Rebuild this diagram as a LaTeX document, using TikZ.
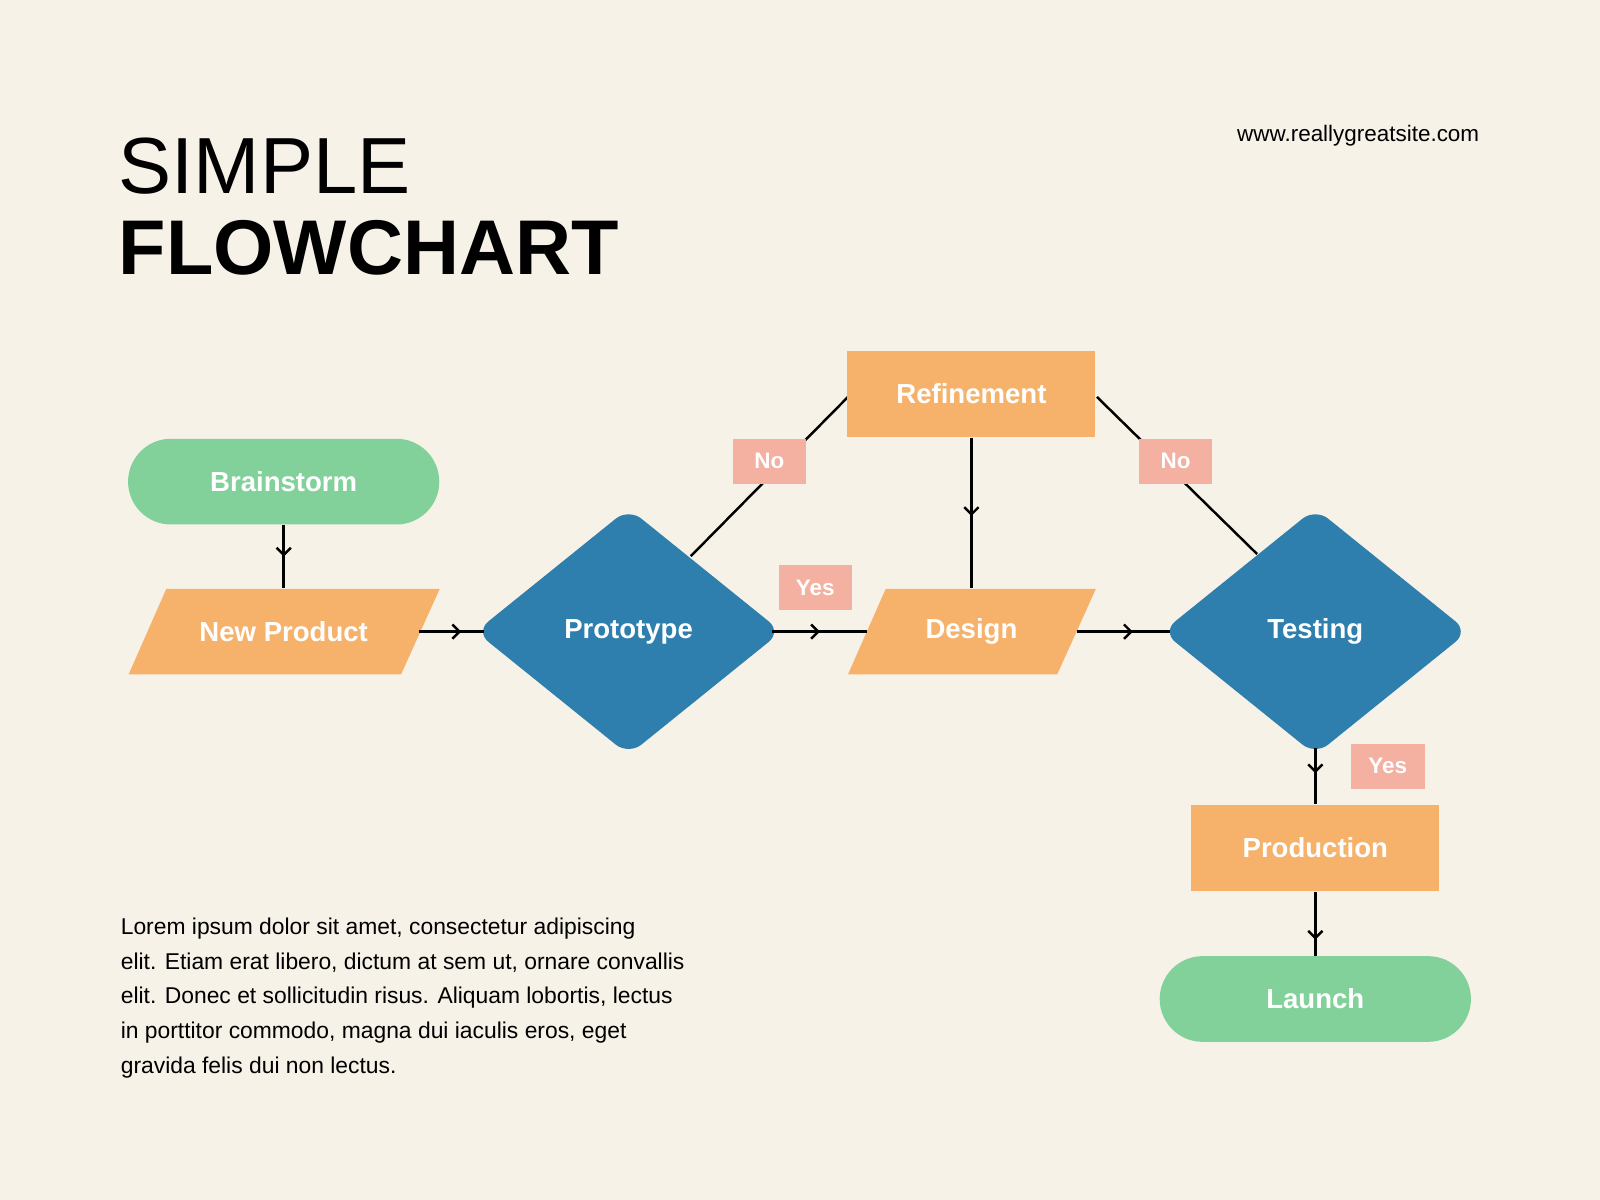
\documentclass[tikz,border=0pt]{standalone}
\usepackage{fontspec}
\setmainfont{Liberation Sans}
\usetikzlibrary{shapes.geometric,arrows.meta,decorations.markings}
\definecolor{bg}{HTML}{F7F2E8}
\definecolor{grn}{HTML}{82D19A}
\definecolor{org}{HTML}{F6B26B}
\definecolor{blu}{HTML}{2E7FAD}
\definecolor{sal}{HTML}{F4B0A0}
\begin{document}
\begin{tikzpicture}[x=0.5pt,y=-0.5pt,
  lbl/.style={text=white,font=\fontsize{13.5}{16}\selectfont\bfseries},
  term/.style={lbl,fill=grn,rounded corners=21pt,minimum width=152.5pt,minimum height=42pt,inner sep=0},
  box/.style={lbl,fill=org,minimum width=121.5pt,minimum height=42.5pt,inner sep=0},
  dia/.style={lbl,fill=blu,diamond,aspect=1.24,minimum width=150pt,minimum height=121pt,inner sep=0,rounded corners=8pt},
  tag/.style={fill=sal,text=white,font=\fontsize{11}{13}\selectfont\bfseries,minimum width=36pt,minimum height=22pt,inner sep=0},
  ln/.style={line width=1.2pt,black},
  arr/.style={ln,postaction={decorate},decoration={markings,mark=at position #1 with {\arrow{Straight Barb[length=3.5pt,width=7pt,line width=1.2pt]}}}}
]
\fill[bg] (0,0) rectangle (1568,1176);
\node[anchor=north west,inner sep=0,font=\fontsize{39}{40}\selectfont] (t1) at (116,135) {SIMPLE};
\node[anchor=north west,inner sep=0,font=\fontsize{38}{40}\selectfont\bfseries] (t2) at (116,216) {FLOWCHART};
\node[anchor=east,inner sep=0,font=\fontsize{11}{12}\selectfont] (url) at (1450,133) {www.reallygreatsite.com};
\node[anchor=north west,inner sep=0,align=left,font=\fontsize{11.2}{17}\selectfont] (body) at (118,899) {Lorem ipsum dolor sit amet, consectetur adipiscing\\elit. Etiam erat libero, dictum at sem ut, ornare convallis\\elit. Donec et sollicitudin risus. Aliquam lobortis, lectus\\in porttitor commodo, magna dui iaculis eros, eget\\gravida felis dui non lectus.};
% connectors first (behind shapes)
\coordinate (pa) at (677,545); \coordinate (ra) at (831,389);
\coordinate (rb) at (1075,389); \coordinate (ta) at (1232,543);
\coordinate (npe) at (411,619); \coordinate (pe) at (757,619);
\coordinate (pw) at (474,619); \coordinate (dw) at (850,619);
\coordinate (de) at (1055,619); \coordinate (tw) at (1147,619);
\coordinate (ts) at (1289,733);
\draw[ln] (pa) -- (ra);
\draw[ln] (rb) -- (ta);
% parallelograms
\fill[org] (163,577) -- (431,577) -- (393,661) -- (126,661) -- cycle;
\fill[org] (868,577) -- (1074,577) -- (1036,661) -- (831,661) -- cycle;
\node[lbl,minimum width=134pt,minimum height=42pt,inner sep=0] (np) at (278,619) {New Product};
\node[lbl,minimum width=102pt,minimum height=42pt,inner sep=0] (des) at (952,619) {Design};
\node[term] (bs) at (278,472) {Brainstorm};
\node[dia] (pro) at (616,619) {Prototype};
\node[box] (ref) at (952,386) {Refinement};
\node[dia] (tst) at (1289,619) {Testing};
\node[box] (prod) at (1289,831) {Production};
\node[term] (lau) at (1289,979) {Launch};
\draw[arr=0.5] (bs) -- (np.north);
\draw[arr=0.65] (npe) -- (pw);
\draw[arr=0.5] (pe) -- (dw);
\draw[arr=0.6] (de) -- (tw);
\draw[arr=0.52] (ref) -- (des.north);
\draw[arr=0.45] (ts) -- (prod.north);
\draw[arr=0.75] (prod) -- (lau);
\node[tag] (n1) at (754,452) {No};
\node[tag] (n2) at (1152,452) {No};
\node[tag] (y1) at (799,576) {Yes};
\node[tag] (y2) at (1360,751) {Yes};
\end{tikzpicture}
\end{document}
